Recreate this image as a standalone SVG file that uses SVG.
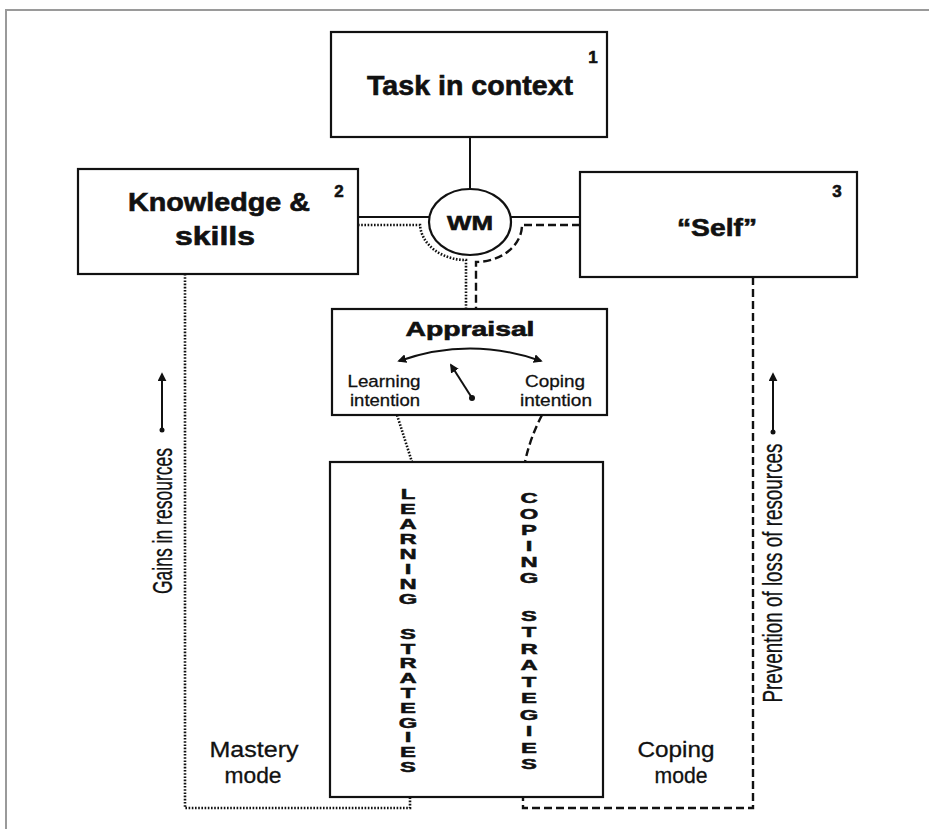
<svg xmlns="http://www.w3.org/2000/svg" width="929" height="829" viewBox="0 0 929 829">
<defs>
<style>
.box{fill:#fff;stroke:#111;stroke-width:2.2}
.solid{fill:none;stroke:#111;stroke-width:2}
.dot{fill:none;stroke:#111;stroke-width:2.6;stroke-dasharray:1.6 1.6}
.dash{fill:none;stroke:#111;stroke-width:2.4;stroke-dasharray:8 4}
.b{font-family:"Liberation Sans",Arial,sans-serif;font-weight:bold;fill:#111;stroke:#111;stroke-width:0.6}
.r{font-family:"Liberation Sans",Arial,sans-serif;fill:#111;stroke:#111;stroke-width:0.3}
.c{text-anchor:middle}
.v{font-family:"Liberation Sans",Arial,sans-serif;font-weight:bold;fill:#111;stroke:#111;stroke-width:0.5;text-anchor:middle;font-size:14px}
</style>
<marker id="ah" viewBox="0 0 10 10" refX="8" refY="5" markerWidth="9" markerHeight="9" markerUnits="userSpaceOnUse" orient="auto-start-reverse">
<path d="M0,0 L10,5 L0,10 z" fill="#111"/>
</marker>
</defs>
<rect width="929" height="829" fill="#fff"/>
<path d="M6,829 V10 H929" fill="none" stroke="#9a9a9a" stroke-width="2"/>

<g id="connectors">
<line class="solid" x1="470" y1="137" x2="470" y2="189"/>
<line class="solid" x1="358" y1="217" x2="429" y2="217"/>
<line class="solid" x1="511" y1="217" x2="580" y2="217"/>
<path class="dot" d="M358,225 H420 A46,37 0 0 0 466,260 V309"/>
<path class="dash" d="M580,225 H522 A46,37 0 0 1 476,262 V309"/>
<path class="dot" d="M397,415 Q405,440 412,462"/>
<path class="dash" d="M542,415 Q530,438 525,462"/>
<path class="dot" d="M185,274 V808 H410 V797"/>
<path class="dash" d="M753,277 V808 H523 V797"/>
<line class="solid" x1="162" y1="430" x2="162" y2="374" marker-end="url(#ah)"/>
<circle cx="162" cy="430" r="2.5" fill="#111"/>
<line class="solid" x1="773" y1="432" x2="773" y2="374" marker-end="url(#ah)"/>
<circle cx="773" cy="432" r="2.5" fill="#111"/>
</g>

<g id="task">
<rect class="box" x="331" y="32" width="276" height="105"/>
<text class="b c" x="470" y="95" font-size="27" textLength="206" lengthAdjust="spacingAndGlyphs">Task in context</text>
<text class="b c" x="593" y="63" font-size="17">1</text>
</g>

<g id="knowledge">
<rect class="box" x="78" y="169" width="280" height="105"/>
<text class="b c" x="219" y="211" font-size="25" textLength="182" lengthAdjust="spacingAndGlyphs">Knowledge &amp;</text>
<text class="b c" x="215" y="245" font-size="25" textLength="80" lengthAdjust="spacingAndGlyphs">skills</text>
<text class="b c" x="339" y="197" font-size="17">2</text>
</g>

<g id="self">
<rect class="box" x="580" y="172" width="277" height="105"/>
<text class="b c" x="717" y="236" font-size="24" textLength="80" lengthAdjust="spacingAndGlyphs">“Self”</text>
<text class="b c" x="837" y="197" font-size="17">3</text>
</g>

<g id="wm">
<ellipse class="box" cx="470" cy="222" rx="41" ry="33"/>
<text class="b c" x="470" y="230" font-size="20" textLength="46" lengthAdjust="spacingAndGlyphs">WM</text>
</g>

<g id="appraisal">
<rect class="box" x="332" y="309" width="275" height="106"/>
<text class="b c" x="470" y="336" font-size="20" textLength="129" lengthAdjust="spacingAndGlyphs">Appraisal</text>
<path class="solid" d="M399,361 Q470,336 541,361" marker-start="url(#ah)" marker-end="url(#ah)"/>
<line class="solid" x1="472" y1="398" x2="451" y2="365" marker-end="url(#ah)"/>
<circle cx="472" cy="398" r="3" fill="#111"/>
<text class="r c" x="384" y="387" font-size="17" textLength="73" lengthAdjust="spacingAndGlyphs">Learning</text>
<text class="r c" x="385" y="406" font-size="17" textLength="70" lengthAdjust="spacingAndGlyphs">intention</text>
<text class="r c" x="555" y="387" font-size="17" textLength="60" lengthAdjust="spacingAndGlyphs">Coping</text>
<text class="r c" x="556" y="406" font-size="17" textLength="72" lengthAdjust="spacingAndGlyphs">intention</text>
</g>

<g id="strategies">
<rect class="box" x="330" y="462" width="273" height="335"/>
<g transform="translate(408,0) scale(1.7,1)">
<text class="v"><tspan x="0" y="499">L</tspan><tspan x="0" y="514">E</tspan><tspan x="0" y="529">A</tspan><tspan x="0" y="544">R</tspan><tspan x="0" y="559">N</tspan><tspan x="0" y="574">I</tspan><tspan x="0" y="589">N</tspan><tspan x="0" y="604">G</tspan><tspan x="0" y="639">S</tspan><tspan x="0" y="654">T</tspan><tspan x="0" y="668">R</tspan><tspan x="0" y="683">A</tspan><tspan x="0" y="698">T</tspan><tspan x="0" y="713">E</tspan><tspan x="0" y="728">G</tspan><tspan x="0" y="742">I</tspan><tspan x="0" y="757">E</tspan><tspan x="0" y="772">S</tspan></text>
</g>
<g transform="translate(529,0) scale(1.7,1)">
<text class="v"><tspan x="0" y="503">C</tspan><tspan x="0" y="519">O</tspan><tspan x="0" y="535">P</tspan><tspan x="0" y="551">I</tspan><tspan x="0" y="567">N</tspan><tspan x="0" y="583">G</tspan><tspan x="0" y="621">S</tspan><tspan x="0" y="637">T</tspan><tspan x="0" y="654">R</tspan><tspan x="0" y="670">A</tspan><tspan x="0" y="687">T</tspan><tspan x="0" y="703">E</tspan><tspan x="0" y="720">G</tspan><tspan x="0" y="736">I</tspan><tspan x="0" y="753">E</tspan><tspan x="0" y="769">S</tspan></text>
</g>
</g>

<g id="labels">
<text class="r c" x="254" y="757" font-size="22" textLength="89" lengthAdjust="spacingAndGlyphs">Mastery</text>
<text class="r c" x="253" y="783" font-size="22" textLength="57" lengthAdjust="spacingAndGlyphs">mode</text>
<text class="r c" x="676" y="757" font-size="22" textLength="77" lengthAdjust="spacingAndGlyphs">Coping</text>
<text class="r c" x="681" y="783" font-size="22" textLength="53" lengthAdjust="spacingAndGlyphs">mode</text>
<text class="r c" transform="translate(172,521) rotate(-90)" font-size="27" textLength="146" lengthAdjust="spacingAndGlyphs">Gains in resources</text>
<text class="r c" transform="translate(782,573) rotate(-90)" font-size="27" textLength="259" lengthAdjust="spacingAndGlyphs">Prevention of loss of resources</text>
</g>
</svg>
